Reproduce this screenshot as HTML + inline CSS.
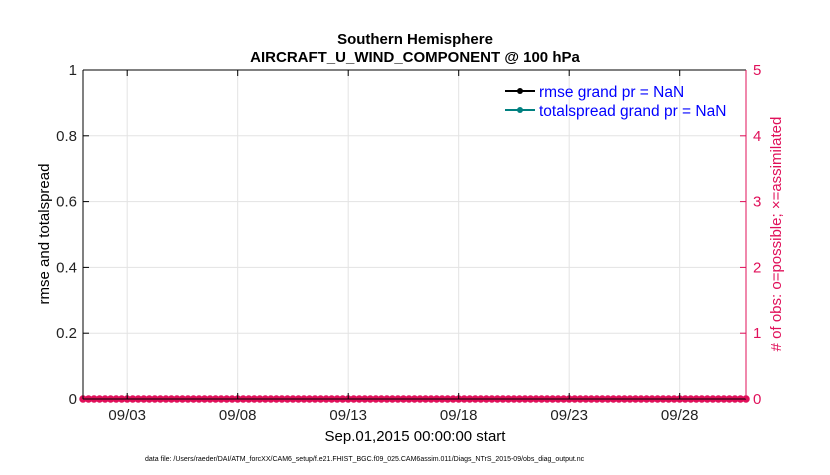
<!DOCTYPE html>
<html><head><meta charset="utf-8"><style>
body{margin:0;background:#fff;width:830px;height:470px;overflow:hidden;font-family:"Liberation Sans",Arial,sans-serif}
svg text{font-family:"Liberation Sans",Arial,sans-serif}
</style></head><body>
<svg id="chart" width="830" height="470" xmlns="http://www.w3.org/2000/svg">
<g id="grid"></g>
<g id="marks"></g>
<g id="axes"></g>
<text x="415" y="44" text-anchor="middle" font-size="15" font-weight="bold" fill="#000">Southern Hemisphere</text>
<text x="415" y="62" text-anchor="middle" font-size="15" font-weight="bold" fill="#000">AIRCRAFT_U_WIND_COMPONENT @ 100 hPa</text>
<text transform="translate(49,234) rotate(-90)" text-anchor="middle" font-size="15" fill="#000">rmse and totalspread</text>
<text transform="translate(781,234) rotate(-90)" text-anchor="middle" font-size="15" fill="#e0105a"># of obs: o=possible; ×=assimilated</text>
<text x="415" y="441" text-anchor="middle" font-size="15" fill="#000">Sep.01,2015 00:00:00 start</text>
<text x="145" y="461" font-size="7" fill="#000">data file: /Users/raeder/DAI/ATM_forcXX/CAM6_setup/f.e21.FHIST_BGC.f09_025.CAM6assim.011/Diags_NTrS_2015-09/obs_diag_output.nc</text>
<g>
<line x1="505" y1="91" x2="535" y2="91" stroke="#000" stroke-width="2"/><circle cx="520" cy="91" r="3" fill="#000"/>
<text x="539" y="97" font-size="15.5" fill="#0000ff">rmse grand pr = NaN</text>
<line x1="505" y1="110" x2="535" y2="110" stroke="#008080" stroke-width="2"/><circle cx="520" cy="110" r="3" fill="#008080"/>
<text x="539" y="116" font-size="15.5" fill="#0000ff">totalspread grand pr = NaN</text>
</g>
</svg>
<script>
const xTickLabels=["09/03","09/08","09/13","09/18","09/23","09/28"];
const xTickDays=[2,7,12,17,22,27];
const yTicks=[0,0.2,0.4,0.6,0.8,1];
const y2Ticks=[0,1,2,3,4,5];
const obsDays=[];for(let i=0;i<=120;i++)obsDays.push(i*0.25);
const obsCounts=obsDays.map(()=>0);
const L=83,R=746,T=70,B=399;
const xs=d=>L+(d/30)*(R-L);
const ys=v=>B-v*(B-T);
const ys2=v=>B-(v/5)*(B-T);
const NS="http://www.w3.org/2000/svg";
function mk(t,a,p){const e=document.createElementNS(NS,t);for(const k in a)e.setAttribute(k,a[k]);p.appendChild(e);return e;}
const grid=document.getElementById('grid'),axes=document.getElementById('axes'),marks=document.getElementById('marks');
xTickDays.forEach((d,i)=>{
 const g=mk('line',{x1:xs(d),x2:xs(d),y1:T,y2:B,stroke:'#e3e3e3','stroke-width':1},grid);
 
 
 mk('line',{x1:xs(d),x2:xs(d),y1:B,y2:B-6,stroke:'#000'},axes);
 mk('line',{x1:xs(d),x2:xs(d),y1:T,y2:T+6,stroke:'#000'},axes);
 const t=mk('text',{x:xs(d),y:B+21,'text-anchor':'middle','font-size':15,fill:'#222'},axes);
 t.textContent=xTickLabels[i];
 
 
});
yTicks.forEach(v=>{
 const g=mk('line',{x1:L,x2:R,y1:ys(v),y2:ys(v),stroke:'#e3e3e3'},grid);
 
 
 mk('line',{x1:L,x2:L+6,y1:ys(v),y2:ys(v),stroke:'#000'},axes);
 const t=mk('text',{x:L-6,y:ys(v)+5,'text-anchor':'end','font-size':15,fill:'#222'},axes);
 t.textContent=v===0?'0':(v===1?'1':v.toFixed(1));
 
 
});
y2Ticks.forEach(v=>{
 mk('line',{x1:R-6,x2:R,y1:ys2(v),y2:ys2(v),stroke:'#e0105a'},axes);
 const t=mk('text',{x:R+7,y:ys2(v)+5,'font-size':15,fill:'#e0105a'},axes);
 t.textContent=v;
 
 
});
mk('line',{x1:L,x2:R,y1:T,y2:T,stroke:'#000'},axes);
mk('line',{x1:L,x2:R,y1:B,y2:B,stroke:'#000'},axes);
mk('line',{x1:L,x2:L,y1:T,y2:B,stroke:'#000'},axes);
mk('line',{x1:R,x2:R,y1:T,y2:B,stroke:'#e0105a'},axes);
mk('line',{x1:xs(obsDays[0]),x2:xs(obsDays[obsDays.length-1]),y1:ys2(0),y2:ys2(0),stroke:'#e0105a','stroke-width':5},marks);
obsDays.forEach((d,i)=>{
 const c=mk('circle',{cx:xs(d),cy:ys2(obsCounts[i]),r:3,fill:'#e0105a',stroke:'#e0105a','stroke-width':1.5},marks);
 
 
});
</script>
</body></html>
